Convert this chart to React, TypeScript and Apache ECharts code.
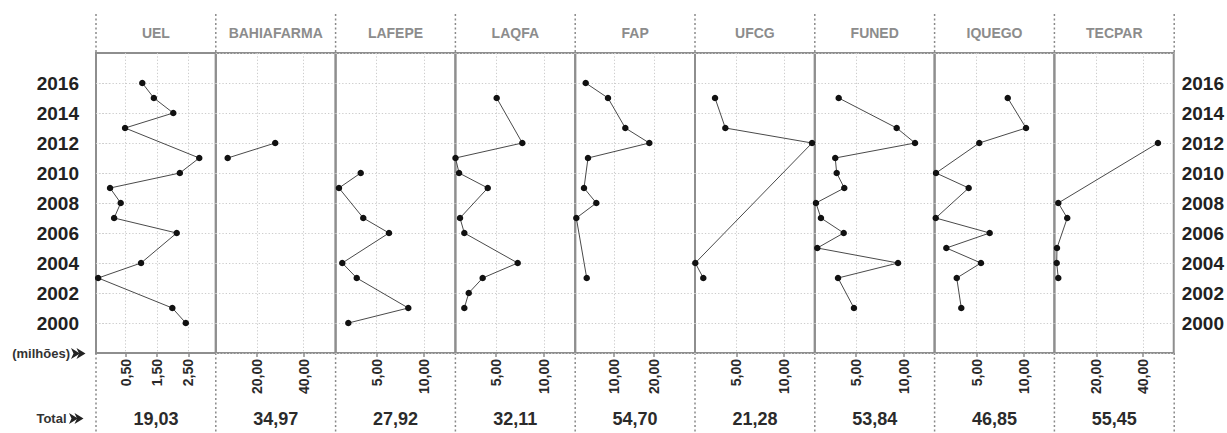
import React, { useEffect, useRef } from "react";
import * as echarts from "echarts";

// ---------- data ----------
const panelNames = ["UEL", "BAHIAFARMA", "LAFEPE", "LAQFA", "FAP", "UFCG", "FUNED", "IQUEGO", "TECPAR"];
const panelTotals = ["19,03", "34,97", "27,92", "32,11", "54,70", "21,28", "53,84", "46,85", "55,45"];
const panelTicks = [
  [0.5, 1.5, 2.5],
  [20, 40],
  [5, 10],
  [5, 10],
  [10, 20],
  [5, 10],
  [5, 10],
  [5, 10],
  [20, 40],
];
const yearTicks = [2000, 2002, 2004, 2006, 2008, 2010, 2012, 2014, 2016];

const uelYears = [2016, 2015, 2014, 2013, 2011, 2010, 2009, 2008, 2007, 2006, 2004, 2003, 2001, 2000];
const uelValues = [1.03, 1.4, 2.02, 0.48, 2.85, 2.23, 0.0, 0.34, 0.13, 2.13, 0.99, -0.38, 1.99, 2.42];

const bahiaYears = [2012, 2011];
const bahiaValues = [27.8, 7.45];

const lafepeYears = [2010, 2009, 2007, 2006, 2004, 2003, 2001, 2000];
const lafepeValues = [3.31, 1.01, 3.58, 6.3, 1.36, 2.89, 8.34, 2.0];

const laqfaYears = [2015, 2012, 2011, 2010, 2009, 2007, 2006, 2004, 2003, 2002, 2001];
const laqfaValues = [5.07, 7.74, 0.78, 1.15, 4.14, 1.25, 1.7, 7.26, 3.61, 2.16, 1.7];

const fapYears = [2016, 2015, 2013, 2012, 2011, 2009, 2008, 2007, 2003];
const fapValues = [2.93, 8.5, 12.83, 18.83, 3.5, 2.5, 5.58, 0.58, 3.18];

const ufcgYears = [2015, 2013, 2012, 2004, 2003];
const ufcgValues = [2.77, 3.85, 12.94, 0.7, 1.54];

const funedYears = [2015, 2013, 2012, 2011, 2010, 2009, 2008, 2007, 2006, 2005, 2004, 2003, 2001];
const funedValues = [3.2, 9.24, 11.15, 2.84, 2.99, 3.78, 0.83, 1.35, 3.72, 0.97, 9.38, 3.13, 4.79];

const iquegoYears = [2015, 2013, 2012, 2010, 2009, 2007, 2006, 2005, 2004, 2003, 2001];
const iquegoValues = [8.28, 10.21, 5.27, 0.7, 4.15, 0.67, 6.37, 1.79, 5.45, 2.89, 3.37];

const tecparYears = [2012, 2008, 2007, 2005, 2004, 2003];
const tecparValues = [46.5, 3.56, 7.42, 3.0, 2.88, 3.56];

const panelYears = [uelYears, bahiaYears, lafepeYears, laqfaYears, fapYears, ufcgYears, funedYears, iquegoYears, tecparYears];
const panelValues = [uelValues, bahiaValues, lafepeValues, laqfaValues, fapValues, ufcgValues, funedValues, iquegoValues, tecparValues];

// ---------- layout / style ----------
const axisRanges = [
  [-0.449, 3.379],
  [2.36, 53.66],
  [0.655, 13.32],
  [0.77, 13.25],
  [0.3, 30.25],
  [0.67, 13.23],
  [0.71, 13.19],
  [0.55, 13.21],
  [1.89, 53.3],
];

const FONT = "'Liberation Sans', Arial, Helvetica, sans-serif";
const LEFT = 96;
const PW = 119.8;
const TOP = 53;
const PH = 300;
const N = panelNames.length;

function buildOption() {
  const grid: any[] = [];
  const xAxis: any[] = [];
  const yAxis: any[] = [];
  const series: any[] = [];
  const graphic: any[] = [];

  const gridLine = { show: true, lineStyle: { color: "#cdcdcd", width: 1, type: [1.3, 2] } };

  for (let i = 0; i < N; i++) {
    grid.push({
      left: LEFT + PW * i,
      top: TOP,
      width: PW,
      height: PH,
      show: true,
      borderColor: "#8e8e8e",
      borderWidth: 2,
      containLabel: false,
    });
    xAxis.push({
      type: "value",
      gridIndex: i,
      min: axisRanges[i][0],
      max: axisRanges[i][1],
      position: "bottom",
      axisLine: { show: false },
      axisTick: {
        show: true,
        customValues: panelTicks[i],
        length: 4,
        lineStyle: { color: "#8e8e8e", width: 1.5 },
      },
      axisLabel: {
        show: true,
        customValues: panelTicks[i],
        rotate: 90,
        margin: 6,
        fontSize: 14,
        fontWeight: "bold",
        fontFamily: FONT,
        color: "#2a2a2a",
        formatter: (v: number) => v.toFixed(2).replace(".", ","),
      },
      splitLine: gridLine,
    });
    const isLeft = i === 0;
    const isRight = i === N - 1;
    yAxis.push({
      type: "value",
      gridIndex: i,
      min: 1998,
      max: 2018,
      interval: 2,
      position: isRight ? "right" : "left",
      axisLine: { show: false },
      axisTick: isLeft
        ? { show: true, customValues: yearTicks, length: 14, lineStyle: { color: "#cdcdcd", width: 1, type: [1.3, 2] } }
        : { show: false },
      axisLabel:
        isLeft || isRight
          ? {
              show: true,
              customValues: yearTicks,
              margin: isLeft ? 17 : 8,
              fontSize: 19,
              fontWeight: "bold",
              fontFamily: FONT,
              color: "#222",
              formatter: (v: number) => String(v),
            }
          : { show: false },
      splitLine: gridLine,
    });
    series.push({
      type: "line",
      xAxisIndex: i,
      yAxisIndex: i,
      data: panelYears[i].map((y, k) => [panelValues[i][k], y]),
      symbol: "circle",
      symbolSize: 6.5,
      showSymbol: true,
      clip: false,
      itemStyle: { color: "#111" },
      lineStyle: { color: "#4a4a4a", width: 1 },
      z: 5,
    });

    const cx = LEFT + PW * (i + 0.5);
    graphic.push({
      type: "text",
      x: cx,
      y: 33,
      style: {
        text: panelNames[i],
        fill: "#8c8c8c",
        font: `bold 14px ${FONT}`,
        textAlign: "center",
        textVerticalAlign: "middle",
      },
    });
    graphic.push({
      type: "text",
      x: cx,
      y: 418.5,
      style: {
        text: panelTotals[i],
        fill: "#2b2b2b",
        font: `bold 18px ${FONT}`,
        textAlign: "center",
        textVerticalAlign: "middle",
      },
    });
  }

  // dotted separators above and below panels
  for (let i = 0; i <= N; i++) {
    const x = LEFT + PW * i;
    graphic.push({
      type: "line",
      shape: { x1: x, y1: 14, x2: x, y2: TOP },
      style: { stroke: "#8a8a8a", lineWidth: 1.5, lineDash: [2, 2.5] },
    });
    graphic.push({
      type: "line",
      shape: { x1: x, y1: TOP + PH, x2: x, y2: 433 },
      style: { stroke: "#8a8a8a", lineWidth: 1.5, lineDash: [2, 2.5] },
    });
  }

  // side labels
  graphic.push({
    type: "text",
    x: 70,
    y: 353.5,
    style: { text: "(milhões)", fill: "#333", font: `bold 13px ${FONT}`, textAlign: "right", textVerticalAlign: "middle" },
  });
  graphic.push({
    type: "text",
    x: 66.5,
    y: 418.5,
    style: { text: "Total", fill: "#333", font: `bold 13px ${FONT}`, textAlign: "right", textVerticalAlign: "middle" },
  });

  const arrow = (x0: number, y0: number) => {
    const head = (dx: number) => ({
      type: "polygon",
      x: x0 + dx,
      y: y0,
      shape: { points: [[0, 0], [9, 5.5], [0, 11], [2.5, 5.5]] },
      style: { fill: "#222" },
    });
    return [head(0), head(5.5)];
  };
  graphic.push(...arrow(71, 348));
  graphic.push(...arrow(69, 413));

  return {
    animation: false,
    backgroundColor: "#fff",
    grid,
    xAxis,
    yAxis,
    series,
    graphic,
  };
}

export default function App() {
  const ref = useRef<HTMLDivElement>(null);
  useEffect(() => {
    if (!ref.current) return;
    const chart = echarts.init(ref.current, null, { renderer: "svg" });
    chart.setOption(buildOption() as any);
    return () => chart.dispose();
  }, []);
  return (
    <div
      ref={ref}
      style={{ position: "absolute", left: 0, top: 0, width: 1227, height: 433, background: "#fff" }}
    />
  );
}
